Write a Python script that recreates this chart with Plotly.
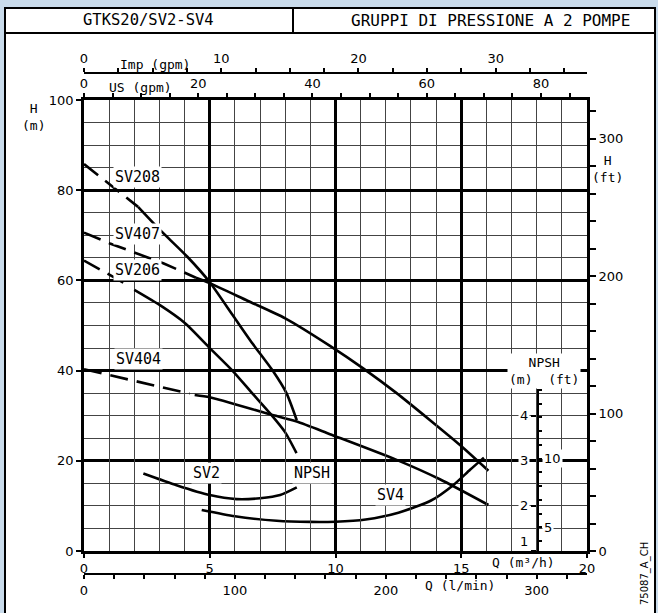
import plotly.graph_objects as go

# ---------------- data (Q in m3/h, H in m, NPSH in m) ----------------
sv208_dash_q = [0.0, 2.15]
sv208_dash_h = [85.8, 76.3]
sv208_q = [2.15, 3.0, 4.1, 5.0, 5.95, 6.7, 7.5, 8.05, 8.46]
sv208_h = [76.3, 71.3, 65.3, 59.6, 52.0, 46.0, 40.0, 35.0, 29.0]

sv407_dash_q = [0.0, 1.03, 3.15, 4.45]
sv407_dash_h = [70.6, 68.2, 63.8, 60.6]
sv407_q = [4.45, 5.0, 6.5, 8.0, 9.78, 11.1, 12.43, 13.76, 14.95, 16.08]
sv407_h = [60.6, 59.4, 55.5, 51.6, 45.5, 40.5, 35.0, 29.0, 23.5, 17.8]

sv206_dash_q = [0.0, 1.7]
sv206_dash_h = [64.4, 59.1]
sv206_q = [2.0, 3.02, 4.02, 5.0, 5.9, 6.7, 7.4, 8.0, 8.45]
sv206_h = [57.9, 54.5, 50.5, 45.0, 40.0, 34.9, 30.5, 26.3, 21.7]

sv404_dash_q = [0.0, 4.2]
sv404_dash_h = [40.3, 34.9]
sv404_q = [4.4, 5.0, 7.4, 8.46, 9.78, 12.43, 14.15, 16.08]
sv404_h = [34.6, 34.1, 30.3, 28.7, 25.9, 20.2, 15.9, 10.2]

npsh_sv2_q = [2.36, 3.68, 5.0, 6.07, 7.0, 7.8, 8.46]
npsh_sv2_m = [2.72, 2.46, 2.24, 2.15, 2.17, 2.24, 2.41]

npsh_sv4_q = [4.68, 6.0, 7.66, 9.0, 10.0, 11.2, 12.5, 13.8, 14.68, 15.35, 15.9]
npsh_sv4_m = [1.91, 1.77, 1.67, 1.645, 1.65, 1.70, 1.85, 2.12, 2.46, 2.80, 3.07]

curve_labels = ["SV208", "SV407", "SV206", "SV404", "SV2", "NPSH", "SV4"]
curve_label_q = [2.12, 2.12, 2.12, 2.16, 4.88, 9.05, 12.17]
curve_label_h = [82.9, 70.4, 62.3, 42.6, 17.4, 17.4, 12.4]

q_ticks = [0, 5, 10, 15, 20]
h_ticks = [0, 20, 40, 60, 80, 100]
ft_ticks = [0, 100, 200, 300]
lpm_ticks = [0, 100, 200, 300]
usgpm_ticks = [0, 20, 40, 60, 80]
imp_ticks = [0, 10, 20, 30]
npsh_m_ticks = [1, 2, 3, 4]
npsh_ft_ticks = [5, 10]

header_left = "GTKS20/SV2-SV4"
header_right = "GRUPPI DI PRESSIONE A 2 POMPE"
drawing_code = "75087_A_CH"

# ---------------- scales ----------------
Q_MAX = 20.0
H_MAX = 100.0
FT_PER_M = 1 / 0.3048
LPM_PER_M3H = 1000 / 60
USGPM_PER_M3H = 1 / 0.22712
IMP_LABEL_PER_M3H = 1 / 0.5456   # scale as printed on the chart
NPSH_BOTTOM = 1.0
NPSH_TOP = 4.6
H_PER_NPSH_M = 10.0

W, HGT = 658, 613
ML, MR, MT, MB = 84, 71, 60, 30
PW = W - ML - MR
PH = HGT - MT - MB
BG = "#c9dbeb"


def px_x(px):
    return (px - ML) / PW


def px_y(py):
    return (HGT - MB - py) / PH


PLOT_TOP, PLOT_BOTTOM = 100, 551
yd0, yd1 = px_y(PLOT_BOTTOM), px_y(PLOT_TOP)
npsh_dom_top = yd0 + (yd1 - yd0) * (NPSH_TOP - NPSH_BOTTOM) * H_PER_NPSH_M / H_MAX

TICKFONT = dict(family="DejaVu Sans", size=13, color="black")
MONO = "DejaVu Sans Mono"
LW = 2.6
DASH = "18px,9px"

fig = go.Figure()


def add_line(q, h, dash=None, yaxis="y"):
    fig.add_trace(go.Scatter(
        x=q, y=h, mode="lines", xaxis="x", yaxis=yaxis,
        line=dict(color="black", width=LW, dash=dash,
                  shape="spline" if dash is None else "linear", smoothing=0.6),
        hoverinfo="skip"))


add_line(sv208_dash_q, sv208_dash_h, DASH)
add_line(sv208_q, sv208_h)
add_line(sv407_dash_q, sv407_dash_h, DASH)
add_line(sv407_q, sv407_h)
add_line(sv206_dash_q, sv206_dash_h, DASH)
add_line(sv206_q, sv206_h)
add_line(sv404_dash_q, sv404_dash_h, DASH)
add_line(sv404_q, sv404_h)
add_line(npsh_sv2_q, npsh_sv2_m, yaxis="y3")
add_line(npsh_sv4_q, npsh_sv4_m, yaxis="y3")

# empty traces so that every secondary axis has a subplot
for xa, ya in [("x2", "y"), ("x3", "y"), ("x4", "y"), ("x", "y2"), ("x", "y4")]:
    fig.add_trace(go.Scatter(x=[], y=[], xaxis=xa, yaxis=ya, mode="lines",
                             hoverinfo="skip"))

common_line = dict(showline=True, linecolor="black", zeroline=False,
                   tickcolor="black", tickfont=TICKFONT)

fig.update_layout(
    width=W, height=HGT, autosize=False,
    margin=dict(l=ML, r=MR, t=MT, b=MB),
    paper_bgcolor=BG, plot_bgcolor="rgba(0,0,0,0)",
    showlegend=False,
    xaxis=dict(domain=[0, 1], range=[0, Q_MAX], anchor="y",
               tickmode="array", tickvals=q_ticks,
               ticks="outside", ticklen=4, tickwidth=2,
               linewidth=2.6, mirror=True,
               showgrid=True, gridcolor="black", gridwidth=2.6,
               minor=dict(dtick=1, showgrid=True, gridcolor="#444", gridwidth=1.3),
               **common_line),
    yaxis=dict(domain=[yd0, yd1], range=[0, H_MAX], anchor="x",
               tickmode="array", tickvals=h_ticks,
               ticks="outside", ticklen=5, tickwidth=2,
               linewidth=2.6, mirror=True,
               showgrid=True, gridcolor="black", gridwidth=2.6,
               minor=dict(dtick=5, showgrid=True, gridcolor="#444", gridwidth=1.3),
               **common_line),
    yaxis2=dict(overlaying="y", side="right", anchor="x",
                range=[0, H_MAX * FT_PER_M],
                tickmode="array", tickvals=ft_ticks,
                ticks="outside", ticklen=6, tickwidth=1.5,
                minor=dict(dtick=20, ticks="outside", ticklen=6, tickwidth=1.5,
                           tickcolor="black"),
                linewidth=2.6, showgrid=False, **common_line),
    xaxis2=dict(overlaying="x", anchor="free", position=px_y(574),
                range=[0, Q_MAX * LPM_PER_M3H],
                tickmode="array", tickvals=lpm_ticks,
                ticks="outside", ticklen=4, tickwidth=1.5,
                minor=dict(dtick=20, ticks="outside", ticklen=4, tickwidth=1.5,
                           tickcolor="black"),
                linewidth=2.2, showgrid=False, **common_line),
    xaxis3=dict(overlaying="x", side="top", anchor="y",
                range=[0, Q_MAX * USGPM_PER_M3H],
                tickmode="array", tickvals=usgpm_ticks,
                ticks="outside", ticklen=4, tickwidth=1.5,
                minor=dict(dtick=5, ticks="outside", ticklen=4, tickwidth=1.5,
                           tickcolor="black"),
                linewidth=2.6, showgrid=False, **common_line),
    xaxis4=dict(overlaying="x", side="top", anchor="free", position=px_y(73),
                range=[0, Q_MAX * IMP_LABEL_PER_M3H],
                tickmode="array", tickvals=imp_ticks,
                ticks="outside", ticklen=4, tickwidth=1.5,
                minor=dict(dtick=2.5, ticks="outside", ticklen=4, tickwidth=1.5,
                           tickcolor="black"),
                linewidth=2.2, showgrid=False, **common_line),
    yaxis3=dict(anchor="free", position=18 / Q_MAX, side="left",
                domain=[yd0, npsh_dom_top], range=[NPSH_BOTTOM, NPSH_TOP],
                tickmode="array", tickvals=npsh_m_ticks, showticklabels=False,
                ticks="outside", ticklen=5, tickwidth=2,
                linewidth=2.6, showgrid=False, **common_line),
    yaxis4=dict(anchor="free", position=18 / Q_MAX, side="right",
                domain=[yd0, npsh_dom_top],
                range=[NPSH_BOTTOM * FT_PER_M, NPSH_TOP * FT_PER_M],
                tickmode="array", tickvals=npsh_ft_ticks, showticklabels=False,
                ticks="outside", ticklen=4, tickwidth=1.5,
                minor=dict(dtick=1, tick0=0, ticks="outside", ticklen=4,
                           tickwidth=1.5, tickcolor="black"),
                showline=False, zeroline=False, showgrid=False, tickcolor="black"),
)

# ---------------- frame / header ----------------
shapes = [
    dict(type="rect", xref="paper", yref="paper", layer="below",
         x0=px_x(5), x1=px_x(655), y0=px_y(625), y1=px_y(8),
         fillcolor="white", line=dict(color="black", width=2)),
    dict(type="line", xref="paper", yref="paper",
         x0=px_x(5), x1=px_x(655), y0=px_y(33), y1=px_y(33),
         line=dict(color="black", width=2)),
    dict(type="line", xref="paper", yref="paper",
         x0=px_x(293), x1=px_x(293), y0=px_y(8), y1=px_y(33),
         line=dict(color="black", width=2)),
]
fig.update_layout(shapes=shapes)

ann = []


def txt(text, px, py, size=13, family=MONO, **kw):
    d = dict(text=text, x=px_x(px), y=px_y(py), xref="paper", yref="paper",
             showarrow=False, font=dict(family=family, size=size, color="black"),
             xanchor="center", yanchor="middle")
    d.update(kw)
    ann.append(d)


txt(header_left, 148, 20, size=15.5)
txt(header_right, 490, 20, size=16)
txt(drawing_code, 645, 574, size=10, family="DejaVu Sans", textangle=-90)
txt("H<br>(m)", 33, 117, size=13)
txt("H<br>(ft)", 607, 169, size=13)
txt("Imp (gpm)", 155, 64, size=13)
txt("US (gpm)", 140, 87, size=13)
txt("Q (m³/h)", 523, 562, size=13)
txt("Q (l/min)", 460, 585, size=13)
txt("NPSH<br>(m)  (ft)", 544, 371, size=13, bgcolor="white", borderpad=1)

for lab, q, h in zip(curve_labels, curve_label_q, curve_label_h):
    ann.append(dict(text=lab, x=q, y=h, xref="x", yref="y", showarrow=False,
                    font=dict(family=MONO, size=15, color="black"),
                    bgcolor="white", borderpad=1))

for v in npsh_m_ticks:
    ann.append(dict(text=str(v), x=18 / Q_MAX, y=v, xref="paper", yref="y3",
                    showarrow=False, xanchor="right", xshift=-7,
                    yshift=10 if v == NPSH_BOTTOM else 0,
                    font=TICKFONT, bgcolor="white", borderpad=1))
for v in npsh_ft_ticks:
    ann.append(dict(text=str(v), x=18 / Q_MAX, y=v, xref="paper", yref="y4",
                    showarrow=False, xanchor="left", xshift=5,
                    font=TICKFONT, bgcolor="white", borderpad=1))

fig.update_layout(annotations=ann)

fig.write_html(
    "out.html",
    config={"displayModeBar": False},
    post_script="document.body.style.margin='0px';"
                "document.body.style.background='" + BG + "';",
)
